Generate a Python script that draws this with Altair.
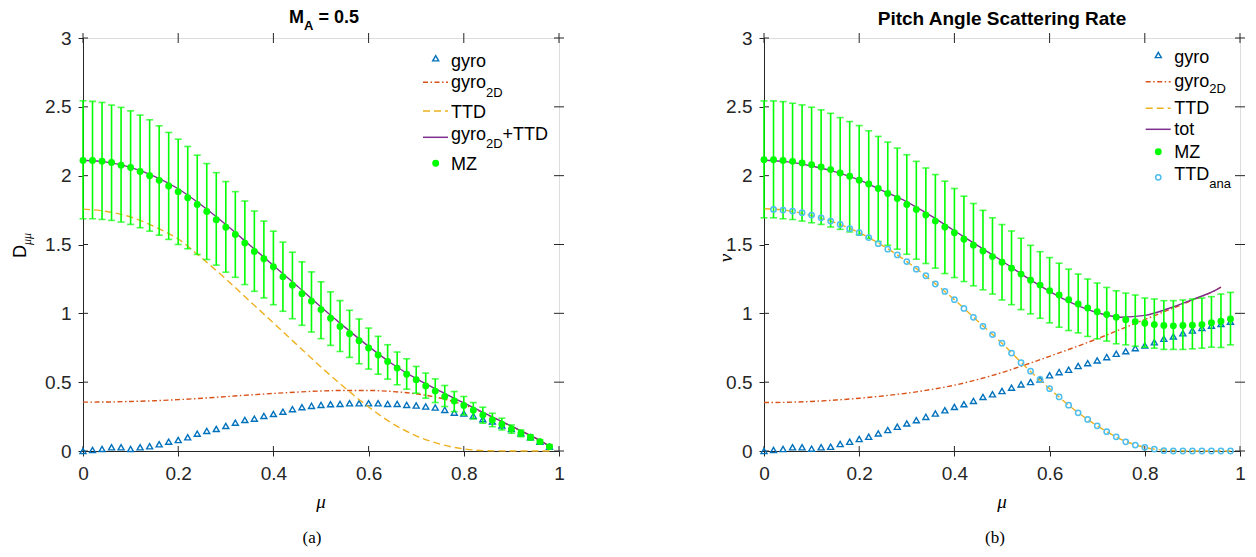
import altair as alt
import pandas as pd

# ---------------- data ----------------
MU = [0.0, 0.02, 0.04, 0.06, 0.08, 0.1, 0.12, 0.14, 0.16, 0.18,
      0.2, 0.22, 0.24, 0.26, 0.28, 0.3, 0.32, 0.34, 0.36, 0.38,
      0.4, 0.42, 0.44, 0.46, 0.48, 0.5, 0.52, 0.54, 0.56, 0.58,
      0.6, 0.62, 0.64, 0.66, 0.68, 0.7, 0.72, 0.74, 0.76, 0.78,
      0.8, 0.82, 0.84, 0.86, 0.88, 0.9, 0.92, 0.94, 0.96, 0.98]
MU_LINE = [0.0, 0.05, 0.1, 0.15, 0.2, 0.25, 0.3, 0.35, 0.4, 0.45, 0.5,
           0.55, 0.6, 0.65, 0.7, 0.75, 0.8, 0.85, 0.9, 0.95, 0.98]
MU_LINE_R = [0.0, 0.05, 0.1, 0.15, 0.2, 0.25, 0.3, 0.35, 0.4, 0.45, 0.5,
             0.55, 0.6, 0.65, 0.7, 0.75, 0.8, 0.85, 0.9, 0.95, 0.96]
X_TICKS = [0, 0.2, 0.4, 0.6, 0.8, 1]
Y_TICKS = [0, 0.5, 1, 1.5, 2, 2.5, 3]

# panel (a)
A_MZ = [2.11, 2.11, 2.105, 2.095, 2.076, 2.06, 2.03, 2.0, 1.966, 1.925,
        1.884, 1.84, 1.79, 1.74, 1.68, 1.626, 1.573, 1.51, 1.45, 1.396,
        1.338, 1.265, 1.204, 1.143, 1.088, 1.027, 0.964, 0.905, 0.852, 0.801,
        0.748, 0.697, 0.651, 0.602, 0.558, 0.517, 0.473, 0.435, 0.396, 0.364,
        0.33, 0.296, 0.262, 0.226, 0.194, 0.16, 0.129, 0.1, 0.068, 0.031]
A_HI = [2.544, 2.54, 2.532, 2.513, 2.496, 2.471, 2.44, 2.406, 2.362, 2.314,
        2.265, 2.212, 2.149, 2.088, 2.022, 1.957, 1.884, 1.816, 1.743, 1.67,
        1.597, 1.517, 1.444, 1.374, 1.301, 1.229, 1.156, 1.092, 1.022, 0.959,
        0.893, 0.833, 0.772, 0.719, 0.67, 0.614, 0.566, 0.524, 0.476, 0.432,
        0.396, 0.352, 0.318, 0.274, 0.238, 0.189, 0.153, 0.117, 0.08, 0.044]
A_LO = [1.687, 1.687, 1.682, 1.675, 1.663, 1.646, 1.622, 1.597, 1.568, 1.537,
        1.5, 1.469, 1.428, 1.391, 1.35, 1.299, 1.262, 1.209, 1.16, 1.112,
        1.063, 1.015, 0.961, 0.913, 0.864, 0.816, 0.767, 0.723, 0.68, 0.634,
        0.595, 0.558, 0.522, 0.481, 0.449, 0.42, 0.384, 0.352, 0.323, 0.286,
        0.262, 0.233, 0.202, 0.177, 0.153, 0.129, 0.104, 0.08, 0.056, 0.031]
A_GYRO = [0.0, 0.007, 0.015, 0.027, 0.027, 0.015, 0.027, 0.034, 0.049, 0.068,
          0.08, 0.1, 0.126, 0.146, 0.16, 0.182, 0.206, 0.226, 0.235, 0.255,
          0.269, 0.286, 0.304, 0.318, 0.328, 0.335, 0.34, 0.342, 0.347, 0.347,
          0.347, 0.347, 0.342, 0.342, 0.335, 0.33, 0.323, 0.316, 0.299, 0.279,
          0.272, 0.255, 0.231, 0.214, 0.185, 0.16, 0.129, 0.1, 0.068, 0.031]
A_G2D = [0.355, 0.356, 0.36, 0.365, 0.373, 0.383, 0.395, 0.407, 0.418, 0.428, 0.436,
         0.44, 0.44, 0.432, 0.415, 0.385, 0.335, 0.262, 0.18, 0.095, 0.035]
A_TTD = [1.757, 1.74, 1.70, 1.63, 1.54, 1.40, 1.25, 1.09, 0.93, 0.77, 0.61,
         0.46, 0.32, 0.2, 0.11, 0.05, 0.015, 0.002, 0.0, 0.0, 0.0]
A_SUM = [2.112, 2.098, 2.06, 1.995, 1.905, 1.783, 1.645, 1.497, 1.348, 1.198, 1.046,
         0.90, 0.76, 0.632, 0.525, 0.435, 0.35, 0.264, 0.18, 0.095, 0.035]

# panel (b)
B_MZ = [2.116, 2.116, 2.111, 2.104, 2.092, 2.08, 2.063, 2.044, 2.02, 1.996,
        1.967, 1.94, 1.907, 1.87, 1.834, 1.791, 1.755, 1.714, 1.67, 1.627,
        1.586, 1.538, 1.494, 1.453, 1.412, 1.371, 1.328, 1.285, 1.241, 1.205,
        1.164, 1.133, 1.099, 1.068, 1.039, 1.012, 0.991, 0.971, 0.954, 0.94,
        0.928, 0.918, 0.911, 0.909, 0.911, 0.913, 0.918, 0.931, 0.942, 0.959]
B_HI = [2.543, 2.543, 2.538, 2.526, 2.514, 2.497, 2.478, 2.453, 2.422, 2.393,
        2.364, 2.326, 2.285, 2.244, 2.2, 2.152, 2.104, 2.056, 2.008, 1.96,
        1.907, 1.851, 1.798, 1.748, 1.694, 1.645, 1.598, 1.545, 1.494, 1.448,
        1.405, 1.364, 1.321, 1.285, 1.249, 1.22, 1.188, 1.164, 1.147, 1.133,
        1.111, 1.104, 1.092, 1.092, 1.097, 1.104, 1.111, 1.121, 1.14, 1.152]
B_LO = [1.694, 1.694, 1.687, 1.682, 1.67, 1.658, 1.646, 1.627, 1.61, 1.591,
        1.569, 1.545, 1.521, 1.494, 1.466, 1.429, 1.393, 1.362, 1.328, 1.289,
        1.26, 1.231, 1.2, 1.171, 1.14, 1.097, 1.063, 1.027, 0.996, 0.964,
        0.931, 0.899, 0.875, 0.858, 0.832, 0.815, 0.798, 0.779, 0.771, 0.761,
        0.754, 0.747, 0.738, 0.738, 0.738, 0.742, 0.747, 0.754, 0.752, 0.771]
B_GYRO = [0.0, 0.007, 0.014, 0.027, 0.027, 0.017, 0.027, 0.031, 0.051, 0.067,
          0.087, 0.103, 0.128, 0.152, 0.176, 0.2, 0.224, 0.248, 0.272, 0.296,
          0.32, 0.34, 0.364, 0.393, 0.412, 0.436, 0.46, 0.484, 0.501, 0.52,
          0.55, 0.573, 0.59, 0.617, 0.638, 0.658, 0.682, 0.706, 0.725, 0.747,
          0.766, 0.79, 0.815, 0.832, 0.855, 0.875, 0.894, 0.911, 0.923, 0.94]
B_ANA = [1.755, 1.75, 1.743, 1.731, 1.714, 1.694, 1.67, 1.646, 1.615,
         1.586, 1.55, 1.506, 1.466, 1.424, 1.376, 1.321, 1.273, 1.213, 1.159,
         1.099, 1.036, 0.971, 0.906, 0.846, 0.783, 0.711, 0.641, 0.58, 0.52,
         0.453, 0.393, 0.333, 0.277, 0.229, 0.183, 0.14, 0.103, 0.067, 0.043,
         0.027, 0.014, 0.002, 0.0, 0.0, 0.0, 0.0, 0.0, 0.0, 0.0]
B_G2D = [0.352, 0.354, 0.36, 0.37, 0.383, 0.40, 0.42, 0.446, 0.478, 0.52, 0.57,
         0.627, 0.688, 0.75, 0.815, 0.885, 0.955, 1.025, 1.095, 1.17, 1.19]
B_TTD = [1.76, 1.746, 1.71, 1.658, 1.586, 1.49, 1.376, 1.243, 1.099, 0.94, 0.783,
         0.61, 0.453, 0.305, 0.183, 0.085, 0.027, 0.004, 0.0, 0.0, 0.0]
B_TOT = [2.112, 2.10, 2.07, 2.028, 1.969, 1.89, 1.81, 1.71, 1.60, 1.49, 1.38,
         1.265, 1.16, 1.07, 1.005, 0.972, 0.985, 1.035, 1.10, 1.17, 1.19]

# ---------------- style ----------------
W, H = 476, 413
FONT = "Liberation Sans"
SERIF = "Liberation Serif"
AXC = "#262626"
BLUE = "#0072BD"
ORANGE = "#D95319"
YELLOW = "#EDB120"
PURPLE = "#7E2F8E"
GREEN = "#00FF00"
CYAN = "#4DBEEE"
DASHDOT = [5, 2.5, 1.5, 2.5]
DASH = [7, 4]
TRI = 36
DOT = 48
CIRC = 28

XS = alt.Scale(domain=[0, 1], nice=False, zero=False)
YS = alt.Scale(domain=[0, 3], nice=False, zero=False)
AX = dict(domainColor=AXC, domainWidth=1, tickColor=AXC, tickWidth=1, tickSize=5,
          labelColor=AXC, labelFont=FONT, labelFontSize=19, grid=False, title=None,
          format="~g", labelFlush=False, labelOverlap=False)


def xq(f):
    return alt.X(f + ":Q", scale=XS)


def yq(f):
    return alt.Y(f + ":Q", scale=YS)


def frame():
    xt = pd.DataFrame({"v": X_TICKS})
    yt = pd.DataFrame({"v": Y_TICKS})
    bottom = alt.Chart(xt).mark_rule(color=AXC, strokeWidth=1).encode(
        x=alt.X("v:Q", scale=XS, axis=alt.Axis(orient="bottom", values=X_TICKS, labelPadding=8, **AX)),
        y=alt.value(H), y2=alt.value(H - 5))
    top = alt.Chart(xt).mark_rule(color=AXC, strokeWidth=1).encode(
        x=xq("v"), y=alt.value(-5), y2=alt.value(5))
    left = alt.Chart(yt).mark_rule(color=AXC, strokeWidth=1).encode(
        y=alt.Y("v:Q", scale=YS, axis=alt.Axis(orient="left", values=Y_TICKS, labelPadding=7, **AX)),
        x=alt.value(0), x2=alt.value(5))
    right = alt.Chart(yt).mark_rule(color=AXC, strokeWidth=1).encode(
        y=yq("v"), x=alt.value(W - 5), x2=alt.value(W + 5))
    return [bottom, left, top, right]


def txt(s, x, y, size=18, font=FONT, weight="normal", style="normal", angle=0,
        align="left", color="#000000"):
    kw = dict(font=font, fontSize=size, fontWeight=weight, fontStyle=style,
              align=align, baseline="alphabetic", color=color)
    if angle:
        kw["angle"] = angle
    return alt.Chart(pd.DataFrame({"t": [s]})).mark_text(**kw).encode(
        x=alt.value(x), y=alt.value(y), text="t:N")


def leg_line(name, x1, x2, y, color, dash=None):
    kw = dict(color=color, strokeWidth=1.5)
    if dash:
        kw["strokeDash"] = dash
    return alt.Chart(pd.DataFrame({"t": [name]})).mark_rule(**kw).encode(
        x=alt.value(x1), x2=alt.value(x2), y=alt.value(y))


def leg_tri(name, x, y):
    return alt.Chart(pd.DataFrame({"t": [name]})).mark_point(
        shape="triangle-up", filled=False, color=BLUE, size=TRI, strokeWidth=1.4, opacity=1
    ).encode(x=alt.value(x), y=alt.value(y))


def leg_dot(name, x, y):
    return alt.Chart(pd.DataFrame({"t": [name]})).mark_circle(
        color=GREEN, size=DOT, opacity=1).encode(x=alt.value(x), y=alt.value(y))


def leg_circ(name, x, y):
    return alt.Chart(pd.DataFrame({"t": [name]})).mark_point(
        shape="circle", filled=False, color=CYAN, size=CIRC, strokeWidth=1.5, opacity=1
    ).encode(x=alt.value(x), y=alt.value(y))


def line(df, field, color, dash=None):
    kw = dict(color=color, strokeWidth=1.4, interpolate="monotone")
    if dash:
        kw["strokeDash"] = dash
    return alt.Chart(df).mark_line(**kw).encode(x=xq("mu"), y=yq(field))


def mz_layers(df):
    bars = alt.Chart(df).mark_rule(color=GREEN, strokeWidth=1.6).encode(
        x=xq("mu"), y=yq("lo"), y2="hi:Q")
    cap_hi = alt.Chart(df).mark_tick(color=GREEN, orient="horizontal", size=7, thickness=1.6).encode(
        x=xq("mu"), y=yq("hi"))
    cap_lo = alt.Chart(df).mark_tick(color=GREEN, orient="horizontal", size=7, thickness=1.6).encode(
        x=xq("mu"), y=yq("lo"))
    pts = alt.Chart(df).mark_circle(color=GREEN, size=DOT, opacity=1).encode(
        x=xq("mu"), y=yq("mz"))
    return [bars, cap_hi, cap_lo, pts]


def gyro_layer(df):
    return alt.Chart(df).mark_point(shape="triangle-up", filled=False, color=BLUE, size=TRI,
                                    strokeWidth=1.4, opacity=1).encode(x=xq("mu"), y=yq("gyro"))


# ---------------- panel (a) ----------------
a_pts = pd.DataFrame({"mu": MU, "mz": A_MZ, "hi": A_HI, "lo": A_LO, "gyro": A_GYRO})
a_lin = pd.DataFrame({"mu": MU_LINE, "g2d": A_G2D, "ttd": A_TTD, "tot": A_SUM})

LX = 368
a_layers = frame() + [
    gyro_layer(a_pts),
    line(a_lin, "g2d", ORANGE, DASHDOT),
    line(a_lin, "ttd", YELLOW, DASH),
    line(a_lin, "tot", PURPLE),
] + mz_layers(a_pts) + [
    leg_tri("gyro", 352.7, 20.3),
    leg_line("gyro2D", 340, 365, 44.3, ORANGE, DASHDOT),
    leg_line("TTD", 340, 365, 73, YELLOW, DASH),
    leg_line("sum", 340, 365, 99.3, PURPLE),
    leg_dot("MZ", 352.7, 125.3),
    txt("gyro", LX, 28.7),
    txt("gyro", LX, 50.3), txt("2D", LX + 35, 58.7, size=13),
    txt("TTD", LX, 79.7),
    txt("gyro", LX, 102), txt("2D", LX + 35, 110.3, size=13), txt("+TTD", LX + 51.6, 102),
    txt("MZ", LX, 132),
    # title
    txt("M", 206, -15, size=18, weight="bold"),
    txt("A", 221, -8, size=13, weight="bold"),
    txt("= 0.5", 235.4, -15, size=18, weight="bold"),
    # axis titles
    txt("D", -57, 258 - 38, size=18, angle=270),
    txt("μμ", -52, 245 - 38, size=12, font=SERIF, style="italic", angle=270),
    txt("μ", W / 2, 470, size=19, font=SERIF, style="italic", align="center"),
    txt("(a)", 229, 505, size=17, font=SERIF, align="center"),
]
panel_a = alt.layer(*a_layers).properties(width=W, height=H)

# ---------------- panel (b) ----------------
b_pts = pd.DataFrame({"mu": MU, "mz": B_MZ, "hi": B_HI, "lo": B_LO, "gyro": B_GYRO})
b_ana = pd.DataFrame({"mu": MU[1:], "ana": B_ANA})
b_lin = pd.DataFrame({"mu": MU_LINE, "ttd": B_TTD})
b_lin2 = pd.DataFrame({"mu": MU_LINE_R, "g2d": B_G2D, "tot": B_TOT})

RX = 410.3
b_layers = frame() + [
    gyro_layer(b_pts),
    line(b_lin2, "g2d", ORANGE, DASHDOT),
    line(b_lin, "ttd", YELLOW, DASH),
    line(b_lin2, "tot", PURPLE),
] + mz_layers(b_pts) + [
    alt.Chart(b_ana).mark_point(shape="circle", filled=False, color=CYAN, size=CIRC,
                                strokeWidth=1.5, opacity=1).encode(x=xq("mu"), y=yq("ana")),
    leg_tri("gyro", 394.3, 17),
    leg_line("gyro2D", 381.7, 406.7, 43.7, ORANGE, DASHDOT),
    leg_line("TTD", 381.7, 406.7, 70.3, YELLOW, DASH),
    leg_line("tot", 381.7, 406.7, 91.3, PURPLE),
    leg_dot("MZ", 394.3, 113.7),
    leg_circ("TTDana", 394.3, 139.3),
    txt("gyro", RX, 25),
    txt("gyro", RX, 48.7), txt("2D", RX + 35, 55.3, size=13),
    txt("TTD", RX, 76),
    txt("tot", RX, 97),
    txt("MZ", RX, 120.3),
    txt("TTD", RX, 142), txt("ana", RX + 35, 150.3, size=13),
    # title
    txt("Pitch Angle Scattering Rate", W / 2, -13, size=19, weight="bold", align="center"),
    # axis titles
    txt("ν", -32, 258 - 38, size=19, font=SERIF, style="italic", angle=270, align="center"),
    txt("μ", W / 2, 470, size=19, font=SERIF, style="italic", align="center"),
    txt("(b)", 231, 505, size=17, font=SERIF, align="center"),
]
panel_b = alt.layer(*b_layers).properties(width=W, height=H)

chart = alt.hconcat(panel_a, panel_b, spacing=151).properties(
    padding={"left": 3, "top": 0, "right": 0, "bottom": 0}
).configure_view(stroke=AXC, strokeWidth=1).configure(background="white")

chart.save("out.html", embed_options={"renderer": "svg", "actions": False})
